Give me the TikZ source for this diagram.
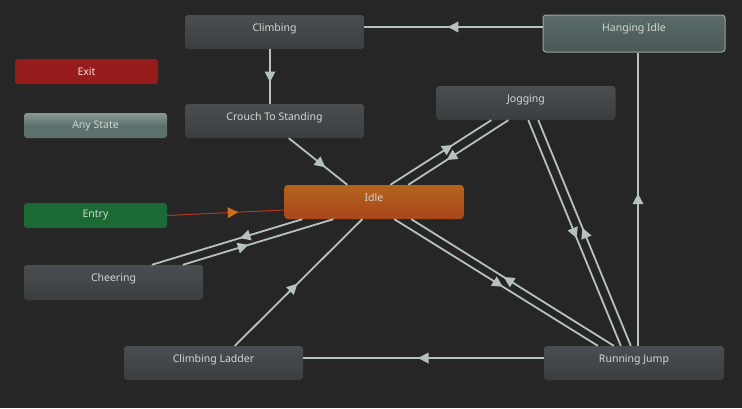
\documentclass[tikz,border=0pt]{standalone}
\usepackage{fontspec}
\setmainfont{Noto Sans}
\usetikzlibrary{calc,decorations.markings}
\definecolor{bg}{HTML}{262626}
\definecolor{stfill}{HTML}{4A4E51}
\definecolor{stdark}{HTML}{3B3E41}
\definecolor{txt}{HTML}{D2D7D5}
\definecolor{wirec}{HTML}{B5C2BE}
\definecolor{exitc}{HTML}{971D1D}
\definecolor{anyc}{HTML}{5C716E}
\definecolor{anytop}{HTML}{8A9B97}
\definecolor{entryc}{HTML}{1B6A34}
\definecolor{idlec}{HTML}{B3641C}
\definecolor{idledark}{HTML}{A9461C}
\definecolor{hangc}{HTML}{5A6B69}
\definecolor{hangdark}{HTML}{4A5856}
\definecolor{hangb}{HTML}{92A6A3}
\definecolor{entryw}{HTML}{B2361F}
\definecolor{entrya}{HTML}{C8701E}
\begin{document}
\begin{tikzpicture}[x=1pt,y=-1pt,
  box/.style={rounded corners=3pt, minimum width=179pt, minimum height=34pt, inner sep=0pt,
    top color=stfill, middle color=stfill, bottom color=stdark},
  idlebox/.style={box, top color=idlec, middle color=idlec, bottom color=idledark},
  hangbox/.style={box, minimum width=182pt, minimum height=37pt,
    top color=hangc, middle color=hangc, bottom color=hangdark, draw=hangb, line width=1pt},
  small/.style={rounded corners=3pt, minimum width=143pt, minimum height=25pt, inner sep=0pt,
    font=\fontsize{10.5}{12}\selectfont, text=txt},
  lbl/.style={anchor=base, inner sep=0pt, font=\fontsize{10.5}{12}\selectfont, text=txt},
  conn/.style={draw=wirec, line width=1.8pt},
  midarrow/.style={postaction={decorate,decoration={markings,
    mark=at position #1 with {\fill[fill=wirec] (5.5pt,0pt) -- (-5pt,5.5pt) -- (-5pt,-5.5pt) -- cycle;}}}},
  midarrow/.default=0.5,
  entryarrow/.style={postaction={decorate,decoration={markings,
    mark=at position #1 with {\fill[fill=entrya] (5.5pt,0pt) -- (-5pt,5.5pt) -- (-5pt,-5.5pt) -- cycle;}}}},
]
\useasboundingbox (0,0) rectangle (742,408);
\fill[bg] (0,0) rectangle (742,408);

% states
\node[box] (climb) at (274.5,32) {};
\node[box] (crouch) at (274.5,121) {};
\node[box] (jog) at (526,103) {};
\node[idlebox] (idle) at (374,202) {};
\node[box, minimum height=35pt] (cheer) at (113.5,282.5) {};
\node[box] (ladder) at (213.5,363) {};
\node[box, minimum width=180pt] (rj) at (634,363) {};
\node[hangbox] (hang) at (634,33.5) {};

\node[small, fill=exitc, text=white!85!red] (exit) at (86.5,71.5) {Exit};
\node[small, top color=anytop, bottom color=anyc, middle color=anyc] (any) at (95.5,125.5) {Any State};
\node[small, fill=entryc] (entry) at (95.5,215.5) {Entry};

% labels
\node[lbl] (climb-t) at ($(climb.north)+(0,16.5)$) {Climbing};
\node[lbl] (crouch-t) at ($(crouch.north)+(0,16.5)$) {Crouch To Standing};
\node[lbl] (jog-t) at ($(jog.north)+(0,16.5)$) {Jogging};
\node[lbl] (idle-t) at ($(idle.north)+(0,16.5)$) {Idle};
\node[lbl] (cheer-t) at ($(cheer.north)+(0,17)$) {Cheering};
\node[lbl] (ladder-t) at ($(ladder.north)+(0,16.5)$) {Climbing Ladder};
\node[lbl] (rj-t) at ($(rj.north)+(0,16.5)$) {Running Jump};
\node[lbl] (hang-t) at ($(hang.north)+(0,16.5)$) {Hanging Idle};

% transitions
\draw[conn, midarrow] ($(hang.west)+(0,-6.5)$) -- ($(climb.east)+(0,-5)$);
\draw[conn, midarrow] ($(climb.south)+(-4.5,0)$) -- ($(crouch.north)+(-4.5,0)$);
\draw[conn, midarrow=0.55] ($(crouch.south west)+(104,0)$) -- ($(idle.north west)+(63,0)$);
\draw[draw=entryw, line width=1pt, entryarrow=0.56] (entry.east) -- ($(idle.west)+(0,8)$);

\draw[conn, midarrow=0.57] ($(idle.north west)+(106,0)$) -- ($(jog.south west)+(55,0)$);
\draw[conn, midarrow=0.57] ($(jog.south west)+(72,0)$) -- ($(idle.north west)+(124,0)$);

\draw[conn, midarrow=0.38] ($(idle.south west)+(18,0)$) -- ($(cheer.north west)+(128,0)$);
\draw[conn, midarrow=0.40] ($(cheer.north west)+(159,0)$) -- ($(idle.south west)+(49,0)$);

\draw[conn, midarrow=0.46] ($(ladder.north west)+(111,0)$) -- ($(idle.south west)+(78,0)$);
\draw[conn, midarrow] ($(rj.west)+(0,-5)$) -- ($(ladder.east)+(0,-5)$);

\draw[conn, midarrow=0.51] ($(idle.south west)+(110,0)$) -- ($(rj.north west)+(54,0)$);
\draw[conn, midarrow=0.52] ($(rj.north west)+(70,0)$) -- ($(idle.south west)+(127,0)$);

\draw[conn, midarrow] ($(jog.south west)+(92,0)$) -- ($(rj.north west)+(77,0)$);
\draw[conn, midarrow] ($(rj.north west)+(87,0)$) -- ($(jog.south west)+(102,0)$);

\draw[conn, midarrow] ($(rj.north)+(4,0)$) -- ($(hang.south)+(4,0)$);
\end{tikzpicture}
\end{document}
